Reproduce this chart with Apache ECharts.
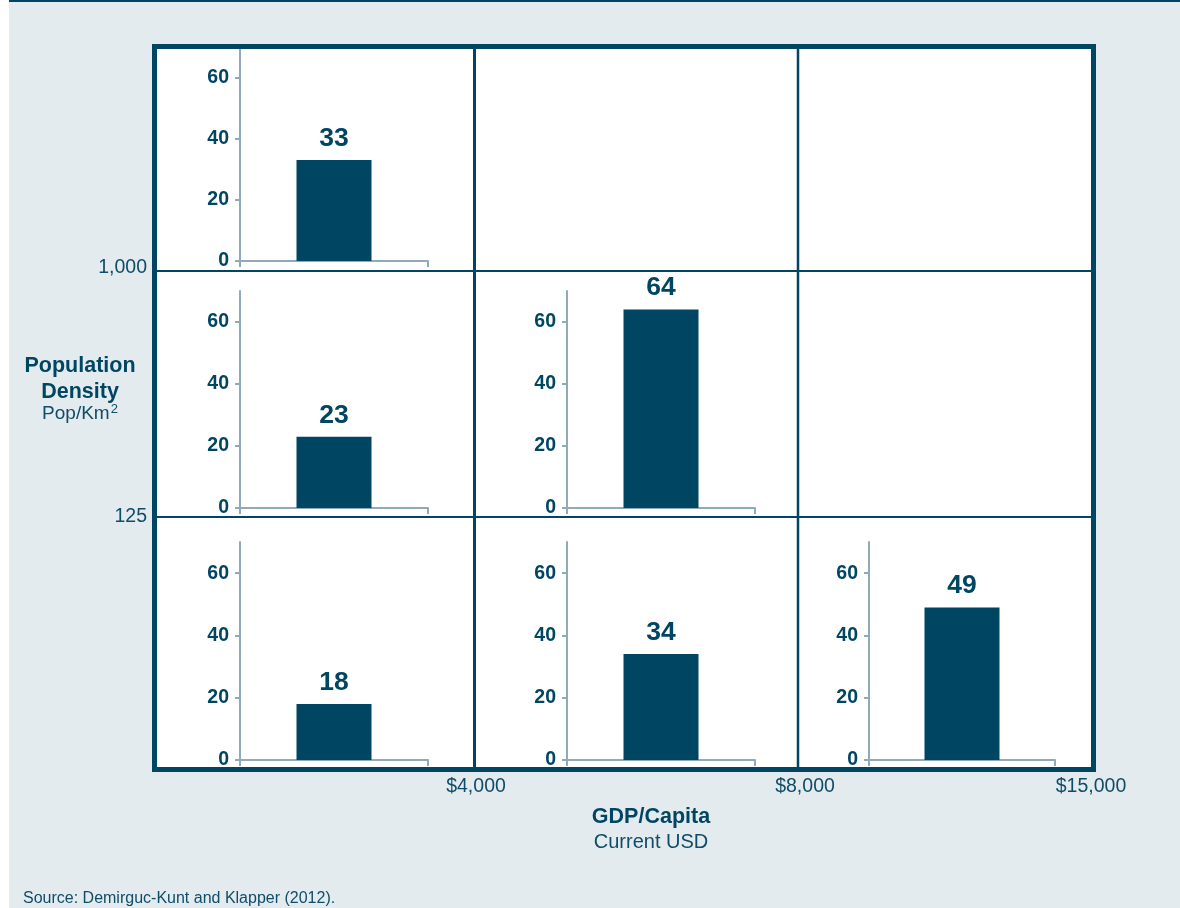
<!DOCTYPE html>
<html>
<head>
<meta charset="utf-8">
<script src="https://cdn.jsdelivr.net/npm/echarts@6/dist/echarts.min.js"></script>
<style>
  html, body { margin: 0; padding: 0; background: #ffffff; }
  #chart { width: 1180px; height: 908px; }
</style>
</head>
<body>
<div id="chart"></div>
<script>
// cells of the 3x3 matrix: row 0 = top (density > 1,000), col 0 = left (GDP < $4,000)
const cellRows = [0, 1, 1, 2, 2, 2];
const cellCols = [0, 0, 1, 0, 1, 2];
const cellValues = [33, 23, 64, 18, 34, 49];

const yTicks = [0, 20, 40, 60];
const densityTicks = ["1,000", "125"];
const gdpTicks = ["$4,000", "$8,000", "$15,000"];

const dark = "#004663";
const axisGrey = "#8eaabb";

// pixel boxes for the small charts inside each cell
const colBox = [[240, 428], [567, 755], [869, 1055]];
const rowBox = [[47, 261], [291, 508], [542, 760]];

const chart = echarts.init(document.getElementById("chart"));

const grids = [], xAxes = [], yAxes = [], series = [];
cellValues.forEach((v, i) => {
  const cx = colBox[cellCols[i]], cy = rowBox[cellRows[i]];
  grids.push({ left: cx[0], width: cx[1] - cx[0], top: cy[0], height: cy[1] - cy[0] });
  xAxes.push({
    gridIndex: i, type: "category", data: [""],
    axisLine: { lineStyle: { color: axisGrey, width: 2 } },
    axisTick: { show: true, length: 6, lineStyle: { color: axisGrey, width: 2 } },
    axisLabel: { show: false }
  });
  yAxes.push({
    gridIndex: i, type: "value", min: 0, max: 70, interval: 20,
    axisLine: { show: true, lineStyle: { color: axisGrey, width: 2 } },
    axisTick: { show: true, length: 5, customValues: yTicks, lineStyle: { color: axisGrey, width: 2 } },
    splitLine: { show: false },
    axisLabel: {
      customValues: yTicks, margin: 11,
      color: dark, fontSize: 19.5, fontWeight: "bold", fontFamily: "Liberation Sans"
    }
  });
  series.push({
    type: "bar", xAxisIndex: i, yAxisIndex: i, data: [v], barWidth: 75,
    itemStyle: { color: dark }, silent: true,
    label: {
      show: true, position: "top", distance: 8,
      color: dark, fontSize: 26.5, fontWeight: "bold", fontFamily: "Liberation Sans"
    }
  });
});

const txt = (x, y, text, o) => ({
  type: "text", x, y, z: 20,
  style: Object.assign({ text, fill: "#0f4c67", fontSize: 19.5, fontFamily: "Liberation Sans",
    textAlign: "center", textVerticalAlign: "middle" }, o || {})
});

const graphic = [
  { type: "rect", z: -10, shape: { x: 9, y: 0, width: 1171, height: 908 }, style: { fill: "#e4ebef" } },
  { type: "rect", z: -10, shape: { x: 9, y: 0, width: 1171, height: 2 }, style: { fill: dark } },
  { type: "rect", z: -5, shape: { x: 154.5, y: 46.5, width: 939, height: 723 }, style: { fill: "#ffffff" } },
  { type: "rect", z: 10, shape: { x: 154.5, y: 46.5, width: 939, height: 723 }, style: { fill: null, stroke: dark, lineWidth: 5 } },
  { type: "line", z: 10, shape: { x1: 154, y1: 271, x2: 1094, y2: 271 }, style: { stroke: dark, lineWidth: 2 } },
  { type: "line", z: 10, shape: { x1: 154, y1: 517, x2: 1094, y2: 517 }, style: { stroke: dark, lineWidth: 2 } },
  { type: "line", z: 10, shape: { x1: 474.5, y1: 47, x2: 474.5, y2: 770 }, style: { stroke: dark, lineWidth: 3 } },
  { type: "line", z: 10, shape: { x1: 798, y1: 47, x2: 798, y2: 770 }, style: { stroke: dark, lineWidth: 2.5 } },
  txt(147, 268, densityTicks[0], { textAlign: "right" }),
  txt(147, 517, densityTicks[1], { textAlign: "right" }),
  txt(476, 787, gdpTicks[0]),
  txt(805, 787, gdpTicks[1]),
  txt(1091, 787, gdpTicks[2]),
  txt(80, 366, "Population", { fontSize: 21.5, fontWeight: "bold", fill: dark }),
  txt(80, 392, "Density", { fontSize: 21.5, fontWeight: "bold", fill: dark }),
  {
    type: "text", x: 80, y: 414, z: 20,
    style: {
      text: "{a|Pop/Km}{s|2}", textAlign: "center", textVerticalAlign: "middle",
      rich: {
        a: { fontSize: 19, fontFamily: "Liberation Sans", fill: "#0f4c67" },
        s: { fontSize: 13, fontFamily: "Liberation Sans", fill: "#0f4c67", padding: [0, 0, 9, 1] }
      }
    }
  },
  txt(651, 817, "GDP/Capita", { fontSize: 21.5, fontWeight: "bold", fill: dark }),
  txt(651, 842, "Current USD", { fontSize: 20 }),
  txt(23, 899, "Source: Demirguc-Kunt and Klapper (2012).", { fontSize: 16, textAlign: "left" })
];

chart.setOption({
  animation: false,
  grid: grids,
  xAxis: xAxes,
  yAxis: yAxes,
  series: series,
  graphic: graphic
});
</script>
</body>
</html>
